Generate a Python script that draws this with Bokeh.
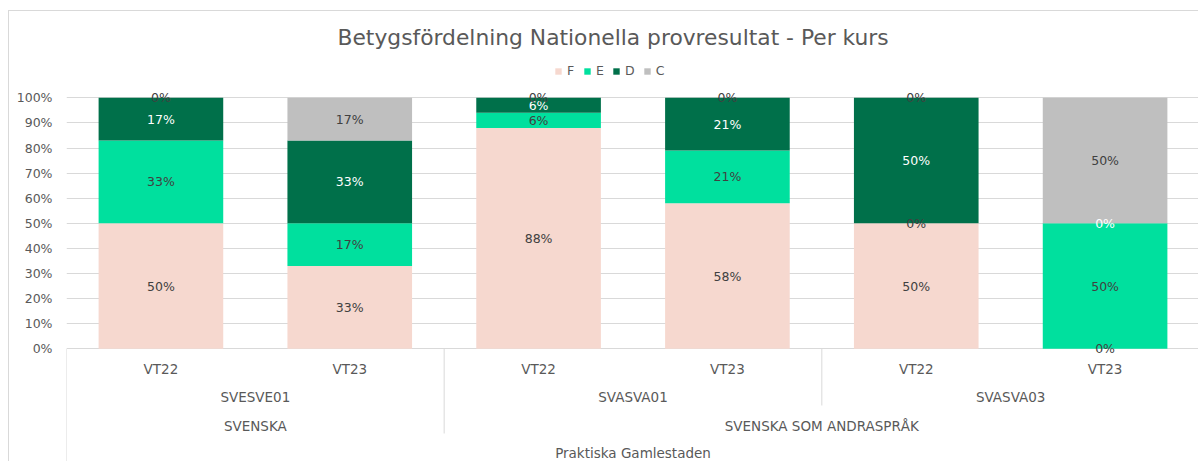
from itertools import groupby

from bokeh.plotting import figure
from bokeh.models import (ColumnDataSource, Range1d, FixedTicker, Legend, LegendItem,
                          NumeralTickFormatter)
from bokeh.core.properties import value
from bokeh.embed import file_html
from bokeh.resources import INLINE

# ---------------- data ----------------
school = "Praktiska Gamlestaden"
subjects = ["SVENSKA", "SVENSKA",
            "SVENSKA SOM ANDRASPRÅK", "SVENSKA SOM ANDRASPRÅK",
            "SVENSKA SOM ANDRASPRÅK", "SVENSKA SOM ANDRASPRÅK"]
courses = ["SVESVE01", "SVESVE01", "SVASVA01", "SVASVA01", "SVASVA03", "SVASVA03"]
terms = ["VT22", "VT23", "VT22", "VT23", "VT22", "VT23"]
grades = ["F", "E", "D", "C"]
F = [50, 33, 88, 58, 50, 0]
E = [33, 17, 6, 21, 0, 50]
D = [17, 33, 6, 21, 50, 0]
C = [0, 17, 0, 0, 0, 50]
y_ticks = [0, 10, 20, 30, 40, 50, 60, 70, 80, 90, 100]
title_text = "Betygsfördelning Nationella provresultat - Per kurs"

# ---------------- style ----------------
FONT = "DejaVu Sans"
colors = {"F": "#F6D8CF", "E": "#00E09E", "D": "#00704A", "C": "#BFBFBF"}
label_colors = {"F": "#404040", "E": "#404040", "D": "#FFFFFF", "C": "#404040"}
GRID = "#D9D9D9"
AXIS_TEXT = "#595959"

n = len(terms)
xs = [i + 0.5 for i in range(n)]
series = {"F": F, "E": E, "D": D, "C": C}
data = {"x": xs}
for g in grades:
    data[g] = [v / 100 for v in series[g]]
src = ColumnDataSource(data)

p = figure(width=1190, height=451, output_backend="svg", toolbar_location=None,
           x_axis_location=None,
           x_range=Range1d(0, n), y_range=Range1d(-0.4530, 1.1805),
           min_border_left=57, min_border_right=0, min_border_top=41, min_border_bottom=0)
# chart-area frame (top / left edges of the Excel chart box)
p.styles = {"border-left": "1px solid #D9D9D9", "border-top": "1px solid #D9D9D9",
            "margin-top": "10px", "margin-left": "8px"}
p.outline_line_color = None
p.background_fill_color = "white"
p.border_fill_color = "white"

# title
p.title.text = title_text
p.title.align = "left"
p.title.offset = 271
p.title.text_font = FONT
p.title.text_font_size = "21.8px"
p.title.text_font_style = "normal"
p.title.text_color = AXIS_TEXT
p.title.standoff = 5

# y axis
ticks = [t / 100 for t in y_ticks]
p.yaxis.ticker = FixedTicker(ticks=ticks)
p.yaxis.formatter = NumeralTickFormatter(format="0%")
p.yaxis.axis_line_color = None
p.yaxis.major_tick_line_color = None
p.yaxis.minor_tick_line_color = None
p.yaxis.major_tick_out = 0
p.yaxis.major_tick_in = 0
p.yaxis.major_label_standoff = 14
p.yaxis.major_label_text_font = FONT
p.yaxis.major_label_text_font_size = "12.5px"
p.yaxis.major_label_text_color = AXIS_TEXT
p.ygrid.ticker = FixedTicker(ticks=ticks)
p.ygrid.grid_line_color = GRID
p.ygrid.grid_line_width = 1
p.xgrid.visible = False

# bars
rends = p.vbar_stack(grades, x="x", width=0.66, source=src,
                     color=[colors[g] for g in grades], line_color=None)

# segment labels
lx, ly, lt, lc = [], [], [], []
for i in range(n):
    base = 0.0
    for g in grades:
        v = series[g][i] / 100
        lx.append(xs[i])
        ly.append(base + v / 2)
        lt.append(f"{series[g][i]}%")
        lc.append(label_colors[g])
        base += v
p.text(x="x", y="y", text="t", text_color="c",
       source=ColumnDataSource(dict(x=lx, y=ly, t=lt, c=lc)),
       text_font=value(FONT), text_font_size="12.5px",
       text_align="center", text_baseline="middle")

# multi-level category axis (drawn in data space below 0)
ROW_TERM, ROW_COURSE, ROW_SUBJ, ROW_SCHOOL = -0.0785, -0.194, -0.3056, -0.4171
DEPTH_COURSE, DEPTH_SUBJ, DEPTH_ALL = -0.2259, -0.3375, -0.4530

cat_x, cat_y, cat_t = [], [], []
for i in range(n):
    cat_x.append(xs[i]); cat_y.append(ROW_TERM); cat_t.append(terms[i])


def group_centers(keys):
    out = []
    idx = 0
    for k, grp in groupby(keys):
        cnt = len(list(grp))
        out.append((k, idx + cnt / 2))
        idx += cnt
    return out


for k, c in group_centers(list(zip(subjects, courses))):
    cat_x.append(c); cat_y.append(ROW_COURSE); cat_t.append(k[1])
for k, c in group_centers(subjects):
    cat_x.append(c); cat_y.append(ROW_SUBJ); cat_t.append(k)
cat_x.append(n / 2); cat_y.append(ROW_SCHOOL); cat_t.append(school)

p.text(x="x", y="y", text="t", source=ColumnDataSource(dict(x=cat_x, y=cat_y, t=cat_t)),
       text_font=value(FONT), text_font_size="13.5px", text_color=AXIS_TEXT,
       text_align="center", text_baseline="middle")

# separators
sx, sy0, sy1 = [0, n], [0, 0], [DEPTH_ALL, DEPTH_ALL]
for i in range(1, n):
    if subjects[i] != subjects[i - 1]:
        sx.append(i); sy0.append(0); sy1.append(DEPTH_SUBJ)
    elif courses[i] != courses[i - 1]:
        sx.append(i); sy0.append(0); sy1.append(DEPTH_COURSE)
p.segment(x0="x", y0="y0", x1="x", y1="y1", source=ColumnDataSource(dict(x=sx, y0=sy0, y1=sy1)),
          line_color=GRID, line_width=1)

# legend
legend = Legend(items=[LegendItem(label=g, renderers=[r]) for g, r in zip(grades, rends)],
                location=(488, 384), orientation="horizontal",
                glyph_width=8, glyph_height=8, label_standoff=5, spacing=8,
                padding=0, margin=0, label_width=8, label_height=12,
                label_text_font=FONT, label_text_font_size="12.5px",
                label_text_color=AXIS_TEXT, border_line_color=None,
                background_fill_alpha=0)
p.add_layout(legend)

open("out.html", "w").write(file_html(p, INLINE))
